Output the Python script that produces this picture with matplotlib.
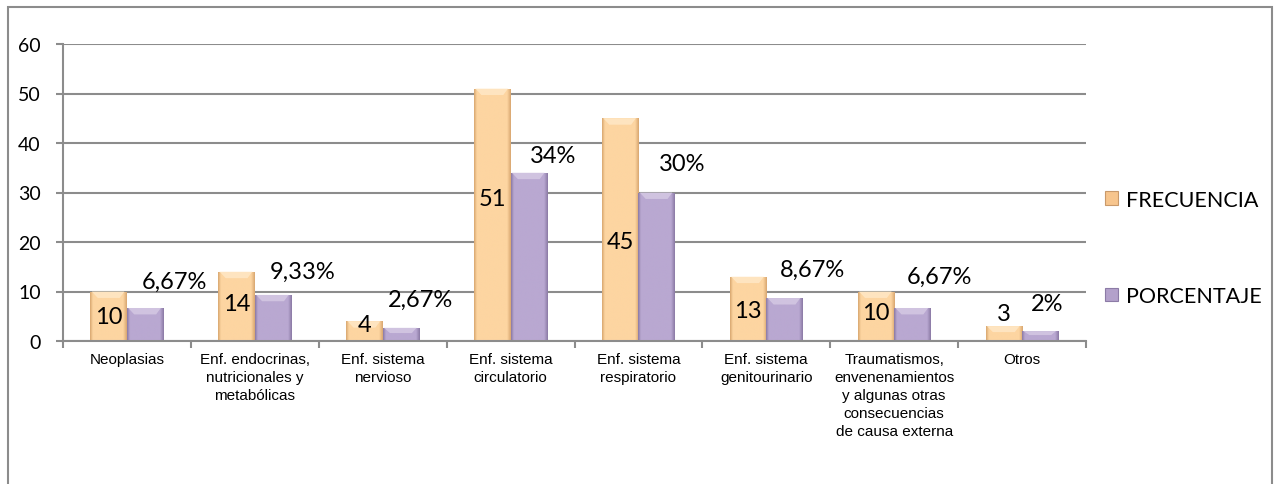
import numpy as np
import matplotlib
matplotlib.use('Agg')
import matplotlib.pyplot as plt
from matplotlib.patches import Polygon, Rectangle, Patch
from matplotlib.colors import to_rgb

categorias = ['Neoplasias',
              'Enf. endocrinas,\nnutricionales y\nmetabólicas',
              'Enf. sistema\nnervioso',
              'Enf. sistema\ncirculatorio',
              'Enf. sistema\nrespiratorio',
              'Enf. sistema\ngenitourinario',
              'Traumatismos,\nenvenenamientos\ny algunas otras\nconsecuencias\nde causa externa',
              'Otros']
frecuencia = [10, 14, 4, 51, 45, 13, 10, 3]
porcentaje = [6.67, 9.33, 2.67, 34, 30, 8.67, 6.67, 2]

# where each data label sits (y in data units, x shift in category units)
y_lab_frec = [5, 7.5, 3.4, 28.7, 20, 6.1, 5.8, 5.5]
x_lab_pct = [0.23, 0.23, 0.15, 0.19, 0.2, 0.22, 0.21, 0.05]
y_lab_pct = [12.1, 14.1, 8.5, 37.4, 35.8, 14.5, 13.1, 7.5]


def fmt_pct(v):
    if v % 1:
        return f'{v:.2f}'.replace('.', ',') + '%'
    return f'{v:.0f}%'


def pintar(ax, barras, base, oscuro, claro):
    base, oscuro, claro = map(lambda c: np.array(to_rgb(c)), (base, oscuro, claro))
    for b in barras:
        x0, w, h = b.get_x(), b.get_width(), b.get_height()
        t = np.linspace(0, 1, 80)
        perfil = np.clip(np.minimum(t * 1.3, 1 - t) / 0.1, 0, 1)
        cols = oscuro + (base - oscuro) * perfil[:, None]
        im = ax.imshow(cols[None, :, :], extent=[x0, x0 + w, 0, h], aspect='auto',
                       zorder=2, interpolation='bilinear')
        im.set_clip_path(b)
        dy = min(h * 0.4, 1.3)
        dx = w * 0.2
        ax.add_patch(Polygon([[x0 + 0.01, h], [x0 + w - 0.02, h], [x0 + w - dx, h - dy], [x0 + dx, h - dy]],
                             closed=True, facecolor=claro, lw=0, zorder=3, alpha=0.8))


fig = plt.figure(figsize=(12.75, 4.85), dpi=100)
ax = fig.add_axes([63 / 1275, 143 / 485, (1086 - 63) / 1275, 297 / 485])

x = np.arange(len(categorias))
w = 0.285
b1 = ax.bar(x - w / 2, frecuencia, w, color='#fcd29c', lw=0, zorder=2)
b2 = ax.bar(x + w / 2, porcentaje, w, color='#b7a6cf', lw=0, zorder=2)
pintar(ax, b1, '#fdd5a1', '#d9a871', '#ffe9c8')
pintar(ax, b2, '#b9a8d1', '#8c7ba6', '#d6cbe4')

for i in range(len(categorias)):
    ax.text(x[i] - w / 2, y_lab_frec[i], str(frecuencia[i]), ha='center', va='center',
            fontsize=17, family='Lato', zorder=5)
    ax.text(x[i] + w / 2 + x_lab_pct[i], y_lab_pct[i], fmt_pct(porcentaje[i]), ha='center',
            va='center', fontsize=17, family='Lato', zorder=5)

gris = '#8c8c8c'
ax.set_xlim(-0.5, len(categorias) - 0.5)
ax.set_ylim(0, 60)
ax.set_yticks(range(0, 61, 10))
ax.yaxis.grid(True, color=gris, lw=1.5)
ax.set_axisbelow(True)
for s in ['top', 'right']:
    ax.spines[s].set_visible(False)
for s in ['left', 'bottom']:
    ax.spines[s].set_color(gris)
    ax.spines[s].set_linewidth(1.5)

ax.tick_params(axis='y', length=5, width=1.5, color=gris, labelsize=14, pad=11)
for lab in ax.get_yticklabels():
    lab.set_family('Lato')

ax.set_xticks(np.arange(-0.5, len(categorias), 1))
ax.set_xticklabels([])
ax.tick_params(axis='x', which='major', length=5, width=1.5, color=gris)
ax.set_xticks(x, minor=True)
ax.set_xticklabels(categorias, minor=True, fontsize=11, family='Liberation Sans',
                   linespacing=1.35, va='top')
ax.tick_params(axis='x', which='minor', length=0, pad=8)

handles = [Patch(facecolor='#f7c58d', edgecolor='#c9996a', lw=0.8),
           Patch(facecolor='#b3a1cb', edgecolor='#8c7ba6', lw=0.8)]
fig.legend(handles, ['FRECUENCIA', 'PORCENTAJE'], loc='center left',
           bbox_to_anchor=(1086 / 1275, 236 / 485), frameon=False,
           prop={'family': 'Lato', 'size': 15.5}, handlelength=0.6, handleheight=0.6,
           handletextpad=0.35, labelspacing=3.55)

fig.patches.append(Rectangle((8 / 1275, -0.05), 1264 / 1275, 1.05 - 8 / 485,
                             transform=fig.transFigure, fill=False, ec=gris, lw=1.5))

fig.savefig('out.png', dpi=100)
